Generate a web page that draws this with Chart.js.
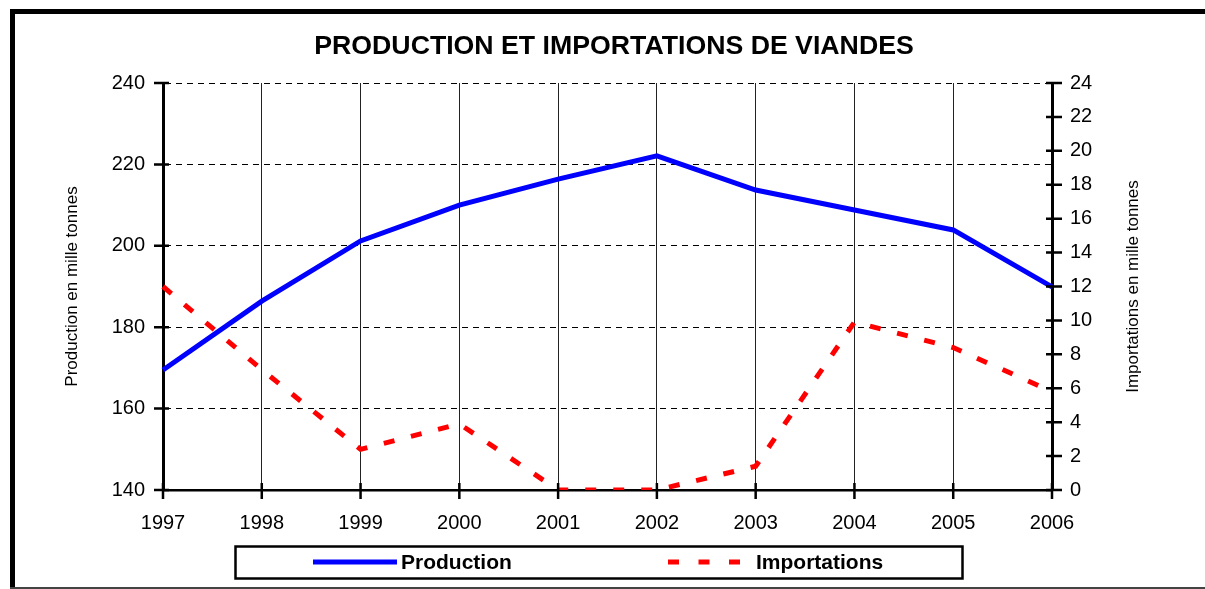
<!DOCTYPE html>
<html>
<head>
<meta charset="utf-8">
<script src="https://cdn.jsdelivr.net/npm/chart.js@4.4.0/dist/chart.umd.min.js"></script>
<style>
    body { margin: 0; background: #fff; }
    #wrap { width: 1205px; height: 589px; }
</style>
</head>
<body>
<div id="wrap"><canvas id="mycanvas" width="1205" height="589"></canvas></div>
<script>
var years = ["1997", "1998", "1999", "2000", "2001", "2002", "2003", "2004", "2005", "2006"];
var production = [169.5, 186.4, 201.2, 210.0, 216.4, 222.1, 213.7, 208.8, 203.9, 189.9];
var importations = [12.0, 7.1, 2.4, 3.9, 0, 0, 1.4, 9.9, 8.4, 5.8];
var leftTicks = [140, 160, 180, 200, 220, 240];
var rightTicks = [0, 2, 4, 6, 8, 10, 12, 14, 16, 18, 20, 22, 24];

var FONT = "'Liberation Sans', Arial, sans-serif";
Chart.defaults.font.family = FONT;
Chart.defaults.color = "#000";

// frame, crossing tick marks, right axis title and the boxed legend
var extras = {
    id: "extras",
    afterDraw: function (chart) {
        var ctx = chart.ctx;
        var ys = chart.scales.y, yr = chart.scales.y2, xs = chart.scales.x;
        ctx.save();

        // frame
        ctx.fillStyle = "#000";
        ctx.fillRect(10, 9, 1195, 5);
        ctx.fillRect(10, 9, 5, 580);
        ctx.fillStyle = "#444";
        ctx.fillRect(10, 587, 1195, 2);

        // tick marks
        ctx.strokeStyle = "#000";
        ctx.lineWidth = 2.5;
        ctx.beginPath();
        leftTicks.forEach(function (v) {
            var p = ys.getPixelForValue(v);
            ctx.moveTo(ys.right - 9, p); ctx.lineTo(ys.right + 6, p);
        });
        rightTicks.forEach(function (v) {
            var p = yr.getPixelForValue(v);
            ctx.moveTo(yr.left - 6, p); ctx.lineTo(yr.left + 10, p);
        });
        years.forEach(function (y, i) {
            var p = xs.getPixelForValue(i);
            ctx.moveTo(p, xs.top - 7); ctx.lineTo(p, xs.top + 9);
        });
        ctx.stroke();

        // right axis title
        ctx.save();
        ctx.translate(1133, (chart.chartArea.top + chart.chartArea.bottom) / 2);
        ctx.rotate(-Math.PI / 2);
        ctx.font = "17px " + FONT;
        ctx.textAlign = "center";
        ctx.textBaseline = "middle";
        ctx.fillStyle = "#000";
        ctx.fillText("Importations en mille tonnes", 0, 0);
        ctx.restore();

        // legend
        ctx.lineWidth = 2.5;
        ctx.strokeStyle = "#000";
        ctx.strokeRect(235.5, 546.5, 727, 32);
        ctx.lineWidth = 5;
        ctx.strokeStyle = "#0000FF";
        ctx.beginPath(); ctx.moveTo(313, 562); ctx.lineTo(397, 562); ctx.stroke();
        ctx.strokeStyle = "#FF0000";
        ctx.setLineDash([11, 19.5]);
        ctx.beginPath(); ctx.moveTo(668, 562); ctx.lineTo(750, 562); ctx.stroke();
        ctx.setLineDash([]);
        ctx.font = "bold 21px " + FONT;
        ctx.fillStyle = "#000";
        ctx.textBaseline = "middle";
        ctx.textAlign = "left";
        ctx.fillText("Production", 401, 563);
        ctx.fillText("Importations", 756, 563);
        ctx.restore();
    }
};

var ctx = document.getElementById("mycanvas");

var chartdata = {
    labels: years,
    datasets: [
        {
            label: "Production",
            data: production,
            yAxisID: "y",
            borderColor: "#0000FF",
            backgroundColor: "#0000FF",
            borderWidth: 5,
            pointRadius: 0,
            tension: 0,
            fill: false
        },
        {
            label: "Importations",
            data: importations,
            yAxisID: "y2",
            borderColor: "#FF0000",
            backgroundColor: "#FF0000",
            borderWidth: 5,
            borderDash: [11, 17],
            pointRadius: 0,
            tension: 0,
            fill: false
        }
    ]
};

var LineGraph = new Chart(ctx, {
    type: "line",
    data: chartdata,
    plugins: [extras],
    options: {
        responsive: false,
        animation: false,
        layout: { padding: { top: 0, left: 23, right: 0, bottom: 0 } },
        plugins: {
            legend: { display: false },
            tooltip: { enabled: false },
            title: {
                display: true,
                text: "PRODUCTION ET IMPORTATIONS DE VIANDES",
                color: "#000",
                font: { size: 26.7, weight: "bold", family: FONT },
                padding: { top: 31, bottom: 20 }
            }
        },
        scales: {
            x: {
                offset: false,
                afterFit: function (s) { s.height = 99; },
                grid: { color: "#222", lineWidth: 1, drawTicks: false },
                border: { color: "#000", width: 2.5 },
                ticks: { font: { size: 20 }, color: "#000", padding: 21, maxRotation: 0, autoSkip: false }
            },
            y: {
                position: "left",
                min: 140,
                max: 240,
                afterFit: function (s) { s.width = 140; },
                ticks: { stepSize: 20, font: { size: 20 }, color: "#000", padding: 18 },
                grid: { color: "#000", lineWidth: 1, drawTicks: false },
                border: { color: "#000", width: 3, dash: [6, 5] },
                title: {
                    display: true,
                    text: "Production en mille tonnes",
                    font: { size: 17 },
                    color: "#000",
                    padding: { top: 39, bottom: 0 }
                }
            },
            y2: {
                position: "right",
                min: 0,
                max: 24,
                afterFit: function (s) { s.width = 153; },
                ticks: { stepSize: 2, font: { size: 20 }, color: "#000", padding: 18 },
                grid: { drawOnChartArea: false, drawTicks: false },
                border: { color: "#000", width: 3 }
            }
        }
    }
});
</script>
</body>
</html>
